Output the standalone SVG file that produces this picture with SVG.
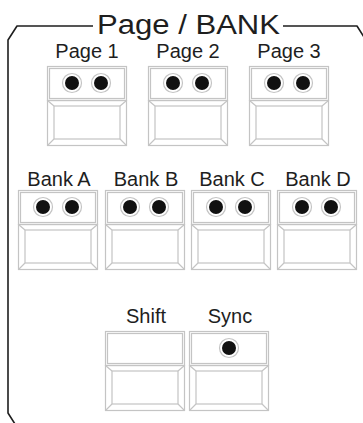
<svg xmlns="http://www.w3.org/2000/svg" xmlns:xlink="http://www.w3.org/1999/xlink" width="363" height="423" viewBox="0 0 363 423">
  <style>
    .frame { fill: none; stroke: #1e1e1e; stroke-width: 1.6; stroke-linejoin: round; }
    .title { font-family: "Liberation Sans", Arial, sans-serif; font-size: 27px; fill: #1e1e1e; }
    .lbl { font-family: "Liberation Sans", Arial, sans-serif; font-size: 20px; fill: #1e1e1e; text-anchor: middle; }
    .bl { fill: none; stroke: #c4c4c4; stroke-width: 1.2; }
    .ring { fill: #ffffff; stroke: #c4c4c4; stroke-width: 1.2; }
    .led { fill: #111111; }
  </style>
  <defs>
    <g id="btn">
      <rect class="bl" x="0.5" y="0.5" width="79" height="34"/>
      <rect class="bl" x="2.5" y="2.5" width="75" height="30"/>
      <rect class="bl" x="0.5" y="34.5" width="79" height="45"/>
      <rect class="bl" x="7" y="40" width="66" height="33"/>
      <path class="bl" d="M0.5,34.5 L7,40 M79.5,34.5 L73,40 M0.5,79.5 L7,73 M79.5,79.5 L73,73"/>
    </g>
    <g id="led">
      <circle class="ring" cx="0" cy="0" r="9.5"/>
      <circle class="led" cx="0" cy="0" r="7"/>
    </g>
    <g id="btn2">
      <use xlink:href="#btn"/>
      <use xlink:href="#led" x="25" y="17"/>
      <use xlink:href="#led" x="54" y="17"/>
    </g>
  </defs>

  <g id="frame">
    <path class="frame" d="M93,26 L17,26 L8,40 L8,413 L15,424"/>
    <path class="frame" d="M283,26 L357,26 L364,37"/>
    <text class="title" x="97" y="34" textLength="183" lengthAdjust="spacingAndGlyphs">Page / BANK</text>
  </g>

  <g id="page1">
    <text class="lbl" x="87" y="57.5">Page 1</text>
    <use xlink:href="#btn2" x="47" y="66"/>
  </g>
  <g id="page2">
    <text class="lbl" x="188" y="57.5">Page 2</text>
    <use xlink:href="#btn2" x="148" y="66"/>
  </g>
  <g id="page3">
    <text class="lbl" x="289" y="57.5">Page 3</text>
    <use xlink:href="#btn2" x="249" y="66"/>
  </g>

  <g id="bankA">
    <text class="lbl" x="59" y="186">Bank A</text>
    <use xlink:href="#btn2" x="18" y="190"/>
  </g>
  <g id="bankB">
    <text class="lbl" x="146" y="186">Bank B</text>
    <use xlink:href="#btn2" x="105" y="190"/>
  </g>
  <g id="bankC">
    <text class="lbl" x="232" y="186">Bank C</text>
    <use xlink:href="#btn2" x="191" y="190"/>
  </g>
  <g id="bankD">
    <text class="lbl" x="318" y="186">Bank D</text>
    <use xlink:href="#btn2" x="277" y="190"/>
  </g>

  <g id="shift">
    <text class="lbl" x="146" y="323">Shift</text>
    <use xlink:href="#btn" x="105" y="331"/>
  </g>
  <g id="sync">
    <text class="lbl" x="230" y="323">Sync</text>
    <use xlink:href="#btn" x="189" y="331"/>
    <use xlink:href="#led" x="229" y="348"/>
  </g>

  <g id="connectors"/>
</svg>
